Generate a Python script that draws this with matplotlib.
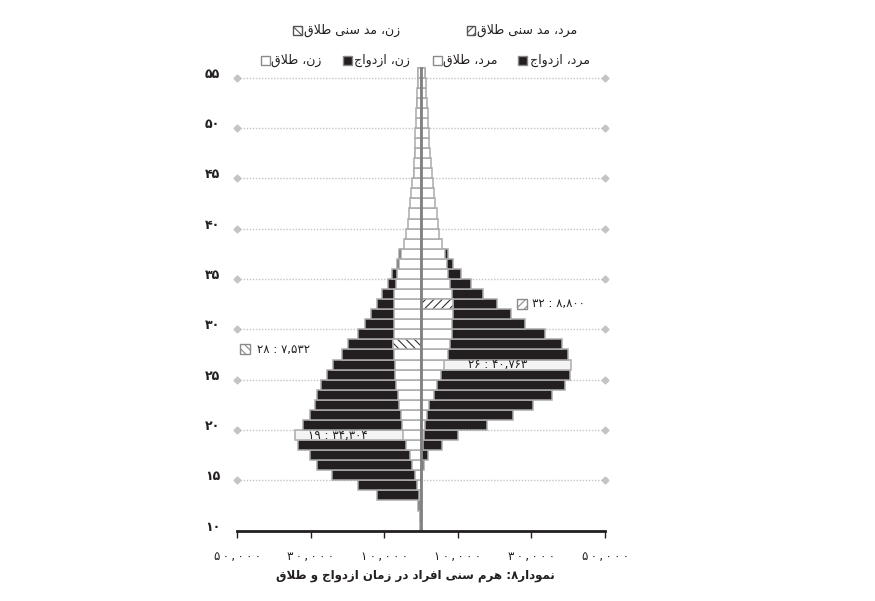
import matplotlib
matplotlib.use("Agg")
import matplotlib.pyplot as plt
from matplotlib.patches import Rectangle
import numpy as np

plt.rcParams['font.family'] = ['DejaVu Sans']
plt.rcParams['hatch.linewidth'] = 0.8

# ---------------- data ----------------
ages = list(range(10, 56))
women_marriage = [200, 300, 900, 12000, 17200, 24100, 28200, 30200, 33500, 34304,
                  32200, 30200, 28800, 28300, 27300, 25600, 24000, 21500, 19900, 17200,
                  15200, 13500, 12000, 10500, 9100, 7800, 6500, 5900, 4400, 3800,
                  3300, 2900, 2600, 2300, 2100, 1800, 1600, 1500, 1400, 1300,
                  1200, 1100, 1000, 900, 800, 700]
women_divorce = [100, 150, 300, 600, 1000, 1600, 2500, 3000, 4200, 4900,
                 5100, 5500, 5900, 6300, 6800, 7000, 7100, 7300, 7532, 7450,
                 7400, 7400, 7400, 7300, 6800, 6400, 5900, 5500, 4600, 4100,
                 3600, 3300, 2900, 2600, 2400, 2000, 1850, 1750, 1600, 1500,
                 1400, 1250, 1150, 1050, 950, 850]
men_marriage = [0, 0, 0, 0, 0, 200, 900, 1900, 5700, 10100,
                17900, 25000, 30300, 35500, 39100, 40500, 40763, 40000, 38400, 33700,
                28300, 24500, 20700, 16800, 13600, 10900, 8600, 7400, 5400, 4600,
                4000, 3600, 3300, 3000, 2800, 2600, 2400, 2200, 2000, 1900,
                1700, 1500, 1400, 1200, 1100, 1000]
men_divorce = [0, 0, 0, 0, 0, 50, 200, 300, 500, 700,
               1100, 1700, 2300, 3400, 4400, 5300, 6300, 7400, 7900, 8300,
               8300, 8600, 8800, 8300, 7900, 7400, 7000, 6500, 5600, 5000,
               4500, 4300, 3900, 3500, 3200, 2900, 2700, 2500, 2300, 2150,
               2000, 1800, 1600, 1450, 1300, 1150]

women_marriage_mode_age, women_marriage_mode = 19, 34304
men_marriage_mode_age, men_marriage_mode = 26, 40763
women_divorce_mode_age, women_divorce_mode = 28, 7532
men_divorce_mode_age, men_divorce_mode = 32, 8800

y_ticks = [10, 15, 20, 25, 30, 35, 40, 45, 50, 55]
x_ticks = [-50000, -30000, -10000, 10000, 30000, 50000]

title = "نمودار۸: هرم سنی افراد در زمان ازدواج و طلاق"
leg_women_mode = "زن، مد سنی طلاق"
leg_men_mode = "مرد، مد سنی طلاق"
leg_men_mar = "مرد، ازدواج"
leg_men_div = "مرد، طلاق"
leg_women_mar = "زن، ازدواج"
leg_women_div = "زن، طلاق"

# ---------------- Persian shaping (manual) ----------------
FORMS = {
    '\u0627': ('\uFE8D', '\uFE8E', None, None),
    '\u0628': ('\uFE8F', '\uFE90', '\uFE91', '\uFE92'),
    '\u062A': ('\uFE95', '\uFE96', '\uFE97', '\uFE98'),
    '\u062C': ('\uFE9D', '\uFE9E', '\uFE9F', '\uFEA0'),
    '\u062F': ('\uFEA9', '\uFEAA', None, None),
    '\u0631': ('\uFEAD', '\uFEAE', None, None),
    '\u0632': ('\uFEAF', '\uFEB0', None, None),
    '\u0633': ('\uFEB1', '\uFEB2', '\uFEB3', '\uFEB4'),
    '\u0637': ('\uFEC1', '\uFEC2', '\uFEC3', '\uFEC4'),
    '\u0641': ('\uFED1', '\uFED2', '\uFED3', '\uFED4'),
    '\u0642': ('\uFED5', '\uFED6', '\uFED7', '\uFED8'),
    '\u0644': ('\uFEDD', '\uFEDE', '\uFEDF', '\uFEE0'),
    '\u0645': ('\uFEE1', '\uFEE2', '\uFEE3', '\uFEE4'),
    '\u0646': ('\uFEE5', '\uFEE6', '\uFEE7', '\uFEE8'),
    '\u0647': ('\uFEE9', '\uFEEA', '\uFEEB', '\uFEEC'),
    '\u0648': ('\uFEED', '\uFEEE', None, None),
    '\u06CC': ('\uFEEF', '\uFEF0', '\uFEF3', '\uFEF4'),
}


def shape(text):
    chars = list(text)
    n = len(chars)
    out = []

    def dual(c):
        return c in FORMS and FORMS[c][2] is not None

    i = 0
    while i < n:
        c = chars[i]
        if c not in FORMS:
            out.append(c)
            i += 1
            continue
        pj = i > 0 and dual(chars[i - 1])
        if c == '\u0644' and i + 1 < n and chars[i + 1] == '\u0627':
            out.append('\uFEFC' if pj else '\uFEFB')
            i += 2
            continue
        nj = i + 1 < n and chars[i + 1] in FORMS
        iso, fin, ini, med = FORMS[c]
        if ini is None:
            out.append(fin if pj else iso)
        elif pj and nj:
            out.append(med)
        elif pj:
            out.append(fin)
        elif nj:
            out.append(ini)
        else:
            out.append(iso)
        i += 1
    return ''.join(reversed(out))


PD = str.maketrans('0123456789', '۰۱۲۳۴۵۶۷۸۹')


def fa_num(v, sep=','):
    s = f"{v:,}".replace(',', sep)
    return s.translate(PD)


def spaced(s):
    return '\u2009'.join(s)


# ---------------- figure ----------------
W, H = 875, 601
fig = plt.figure(figsize=(W / 100, H / 100), dpi=100)
ax_left, ax_right = 237 / W, 605 / W
ax_bot, ax_top = 1 - 530.7 / H, 1 - 62.5 / H
ax = fig.add_axes([ax_left, ax_bot, ax_right - ax_left, ax_top - ax_bot])
ax.set_xlim(-50000, 50000)
ax.set_ylim(9.5, 56)

BLACK = '#231f20'
EDGE = '#ababab'
GRID = '#c4c4c4'

a = np.array(ages)
wm = np.array(women_marriage, dtype=float)
wd = np.array(women_divorce, dtype=float)
mm = np.array(men_marriage, dtype=float)
md = np.array(men_divorce, dtype=float)

# gridlines with diamond ends
for t in y_ticks[1:]:
    ax.plot([-50000, 50000], [t - 0.5, t - 0.5], ls=(0, (1.0, 1.2)), color=GRID,
            lw=1.0, zorder=1)
    ax.plot([-50000, 50000], [t - 0.5, t - 0.5], ls='none', marker='D', ms=3.5,
            color=GRID, zorder=1, clip_on=False)

# marriage bars (black), highlight modes in light fill
w_col = [('#f4f4f4' if ag == women_marriage_mode_age else BLACK) for ag in ages]
m_col = [('#f4f4f4' if ag == men_marriage_mode_age else BLACK) for ag in ages]
ax.barh(a, -wm, height=1.0, color=w_col, edgecolor=EDGE, linewidth=1.1, zorder=2)
ax.barh(a, mm, height=1.0, color=m_col, edgecolor=EDGE, linewidth=1.1, zorder=2)

# divorce bars (white)
ax.barh(a, -wd, height=1.0, color='white', edgecolor=EDGE, linewidth=1.1, zorder=3)
ax.barh(a, md, height=1.0, color='white', edgecolor=EDGE, linewidth=1.1, zorder=3)

# divorce mode bars (hatched)
ax.barh([women_divorce_mode_age], [-women_divorce_mode], height=1.0, color='white',
        edgecolor='#333333', hatch='\\\\\\\\', linewidth=0, zorder=4)
ax.barh([women_divorce_mode_age], [-women_divorce_mode], height=1.0, fill=False,
        edgecolor=EDGE, linewidth=1.1, zorder=4)
ax.barh([men_divorce_mode_age], [men_divorce_mode], height=1.0, color='white',
        edgecolor='#333333', hatch='////', linewidth=0, zorder=4)
ax.barh([men_divorce_mode_age], [men_divorce_mode], height=1.0, fill=False,
        edgecolor=EDGE, linewidth=1.1, zorder=4)

# center line
ax.plot([0, 0], [9.5, 55.5], color='#808080', lw=2, zorder=6)

# labels on mode bars
ax.text(-22600, women_marriage_mode_age,
        f"{fa_num(women_marriage_mode_age)} : {fa_num(women_marriage_mode)}",
        ha='center', va='center', fontsize=8.5, color=BLACK, zorder=7)
ax.text(20700, men_marriage_mode_age,
        f"{fa_num(men_marriage_mode_age)} : {fa_num(men_marriage_mode)}",
        ha='center', va='center', fontsize=8.5, color=BLACK, zorder=7)


# external labels for divorce mode
def hatch_icon(xc, yc, hatch):
    wpx = 9.5
    r = Rectangle((xc / W - wpx / 2 / W, 1 - (yc + wpx / 2) / H), wpx / W, wpx / H,
                  transform=fig.transFigure, facecolor='white', edgecolor='#8a8a8a',
                  hatch=hatch, linewidth=1.0)
    fig.patches.append(r)


hatch_icon(522, 304, '////')
fig.text(532 / W, 1 - 304 / H,
         f"{fa_num(men_divorce_mode_age)} : {fa_num(men_divorce_mode)}",
         ha='left', va='center', fontsize=8.5, color=BLACK)
hatch_icon(245, 349, '\\\\\\\\')
fig.text(257 / W, 1 - 349 / H,
         f"{fa_num(women_divorce_mode_age)} : {fa_num(women_divorce_mode)}",
         ha='left', va='center', fontsize=8.5, color=BLACK)

# axes styling
for s in ['top', 'left', 'right']:
    ax.spines[s].set_visible(False)
ax.spines['bottom'].set_color(BLACK)
ax.spines['bottom'].set_linewidth(2)
ax.spines['bottom'].set_zorder(8)
ax.set_xticks(x_ticks)
ax.set_xticklabels([spaced(fa_num(abs(v))) for v in x_ticks], fontsize=8.5,
                   color=BLACK)
ax.tick_params(axis='x', direction='out', length=5, width=1, color=BLACK, pad=9)
ax.set_yticks(y_ticks)
ax.set_yticklabels([fa_num(v) for v in y_ticks], fontsize=9, fontweight='bold',
                   color=BLACK)
ax.tick_params(axis='y', length=0, pad=12)


# legend (manual, RTL)
def legend_item(icon_x, text_x, y, kind, label):
    s = 9
    if kind == 'black':
        r = Rectangle((icon_x / W - s / 2 / W, 1 - (y + s / 2) / H), s / W, s / H,
                      transform=fig.transFigure, facecolor=BLACK, edgecolor='#8a8a8a',
                      linewidth=1.0)
    elif kind == 'white':
        r = Rectangle((icon_x / W - s / 2 / W, 1 - (y + s / 2) / H), s / W, s / H,
                      transform=fig.transFigure, facecolor='white', edgecolor='#8a8a8a',
                      linewidth=1.0)
    else:
        r = Rectangle((icon_x / W - s / 2 / W, 1 - (y + s / 2) / H), s / W, s / H,
                      transform=fig.transFigure, facecolor='white', edgecolor='#555555',
                      hatch=kind, linewidth=1.0)
    fig.patches.append(r)
    fig.text(text_x / W, 1 - y / H, shape(label), ha='left', va='center',
             fontsize=9, color=BLACK)


legend_item(297, 304, 30, '\\\\\\\\', leg_women_mode)
legend_item(471, 477, 30, '////', leg_men_mode)
legend_item(265, 271, 60, 'white', leg_women_div)
legend_item(347, 354, 60, 'black', leg_women_mar)
legend_item(437, 443, 60, 'white', leg_men_div)
legend_item(522, 530, 60, 'black', leg_men_mar)

fig.text(415 / W, 1 - 575 / H, shape(title), ha='center', va='center',
         fontsize=8.5, fontweight='bold', color=BLACK)

fig.savefig('out.png', dpi=100)
